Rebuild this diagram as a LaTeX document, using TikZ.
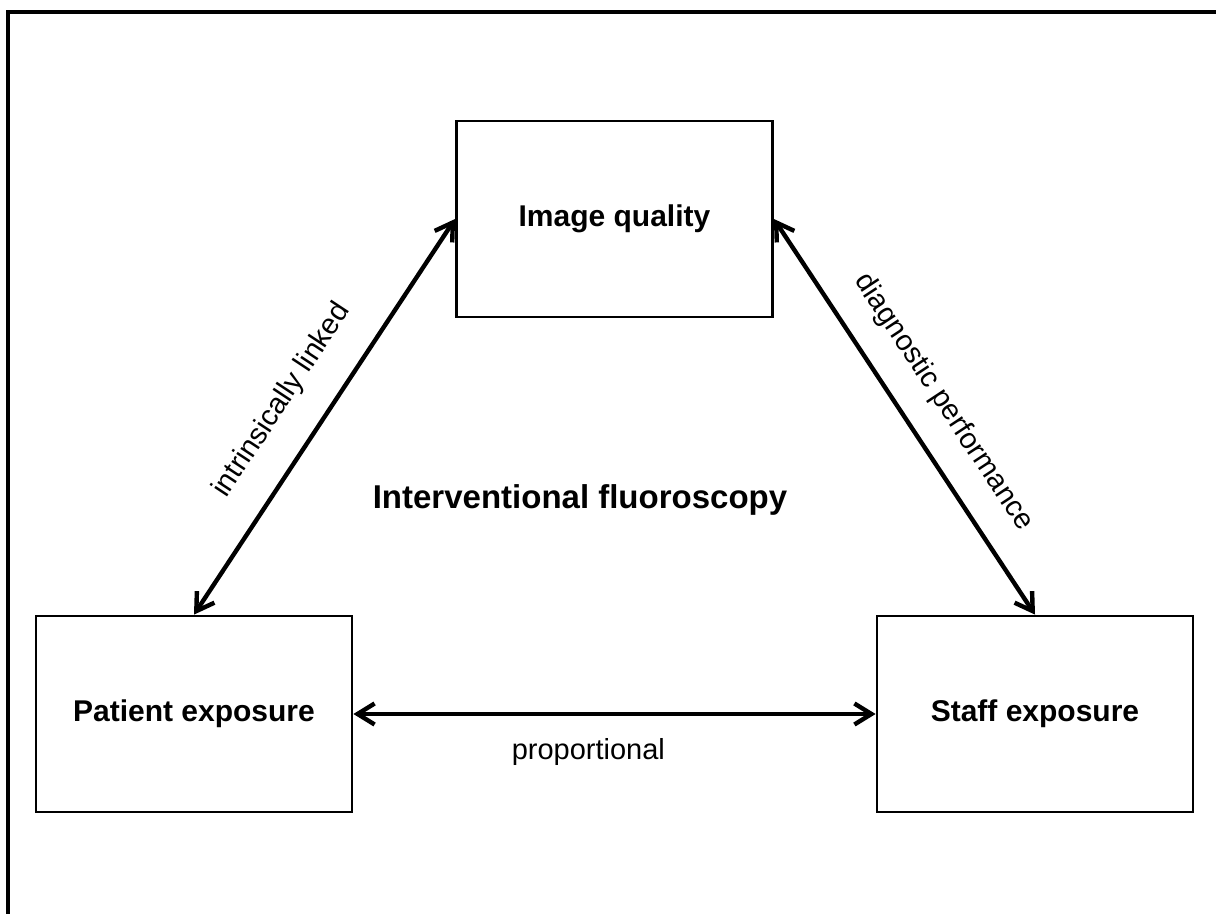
\documentclass[tikz,border=0pt]{standalone}
\usepackage{fontspec}
\setmainfont{Liberation Sans}
\usetikzlibrary{arrows.meta}
\begin{document}
\begin{tikzpicture}[x = 0.5pt, y = -0.5pt,
        box/.style = {draw, line width = 1.4pt, minimum width = 158pt, minimum height = 98pt, font = \fontsize{15}{18}\selectfont\bfseries},
        link/.style = {{Straight Barb[length = 8.5pt, width = 10.5pt]}-{Straight Barb[length = 8.5pt, width = 10.5pt]}, line width = 2.2pt},
        lbl/.style = {font = \fontsize{14.5}{17}\selectfont}]
        \useasboundingbox (0, 0) rectangle (1216, 914);
        \draw[line width = 1.6pt] (1216, 12) -- (8, 12) -- (8, 914);

        \node[box] (iq) at (614.5, 219) {Image quality};
        \node[box] (pat) at (194, 714) {Patient exposure};
        \node[box] (staff) at (1035, 714) {Staff exposure};
        \node[font = \fontsize{16.5}{20}\selectfont\bfseries] (title) at (580, 500) {Interventional fluoroscopy};

        \draw[link] (pat.north) to node[lbl, pos = 0.48, sloped, above = 11pt] {intrinsically linked} (iq.west);
        \draw[link] (iq.east) to node[lbl, pos = 0.52, sloped, above = 9pt] {diagnostic performance} (staff.north);
        \draw[link] (pat.east) to node[lbl, pos = 0.45, below = 8pt] {proportional} (staff.west);
    \end{tikzpicture}
\end{document}
